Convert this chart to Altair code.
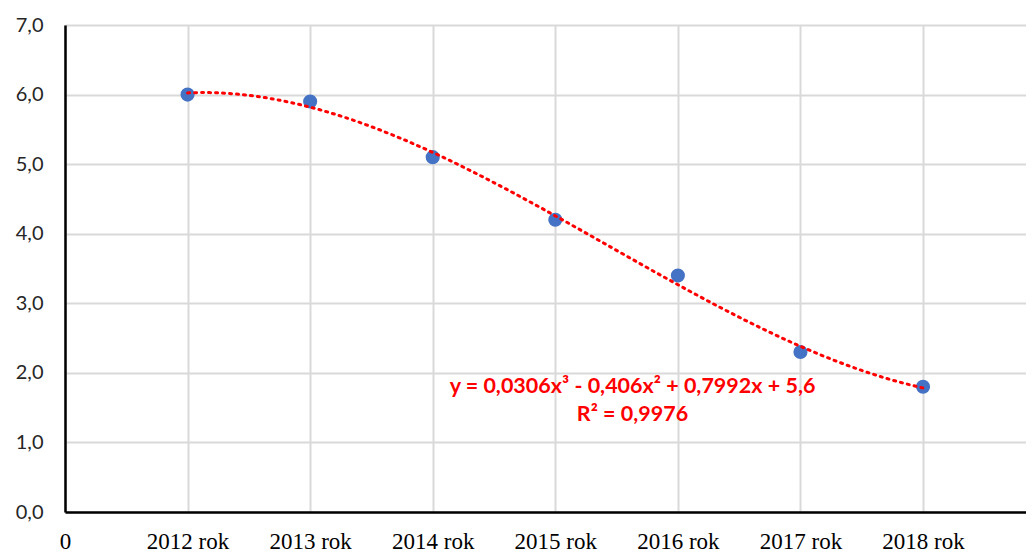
import altair as alt
import pandas as pd

# ---- data ----
years = ["2012 rok", "2013 rok", "2014 rok", "2015 rok", "2016 rok", "2017 rok", "2018 rok"]
x_index = [1, 2, 3, 4, 5, 6, 7]
values = [6.0, 5.9, 5.1, 4.2, 3.4, 2.3, 1.8]

eq_lines = ["y = 0,0306x³ - 0,406x² + 0,7992x + 5,6", "R² = 0,9976"]
eq_x = [4.63, 4.63]
eq_y = [1.80, 1.39]

df = pd.DataFrame({"x": x_index, "value": values, "year": years})
df_eq = pd.DataFrame({"x": eq_x, "y": eq_y, "label": eq_lines})

tick_labels = ["0"] + years
label_arr = "[" + ",".join("'" + t + "'" for t in tick_labels) + "]"

x_scale = alt.Scale(domain=[0, 7.84], nice=False, zero=False)
y_scale = alt.Scale(domain=[0, 7], nice=False)

x_axis = alt.Axis(
    values=list(range(0, 8)),
    labelExpr=label_arr + "[round(datum.value)]",
    labelFont="Liberation Serif",
    labelFontSize=23,
    labelColor="#000000",
    labelPadding=18,
    title=None,
    ticks=False,
    grid=True,
    gridColor="#d9d9d9",
    gridWidth=2,
    domainColor="#000000",
    domainWidth=2.5,
    labelFlush=False,
)
y_axis = alt.Axis(
    values=list(range(0, 8)),
    labelExpr="replace(format(datum.value, '.1f'), '.', ',')",
    labelFont="Lato",
    labelFontSize=20,
    labelColor="#262626",
    labelPadding=22,
    title=None,
    ticks=False,
    grid=True,
    gridColor="#d9d9d9",
    gridWidth=2,
    domainColor="#000000",
    domainWidth=2.5,
)

base = alt.Chart(df)

points = base.mark_point(filled=True, size=200, color="#4472C4", opacity=1).encode(
    x=alt.X("x:Q", scale=x_scale, axis=x_axis),
    y=alt.Y("value:Q", scale=y_scale, axis=y_axis),
)

trend = base.transform_regression(
    "x", "value", method="poly", order=3, extent=[1, 7]
).mark_line(color="#FF0000", strokeDash=[2, 5], strokeWidth=3, strokeCap="round").encode(
    x=alt.X("x:Q", scale=x_scale),
    y=alt.Y("value:Q", scale=y_scale),
)

eq = alt.Chart(df_eq).mark_text(
    color="#FF0000", font="Lato", fontWeight="bold", fontSize=21.5, align="center", baseline="middle"
).encode(
    x=alt.X("x:Q", scale=x_scale),
    y=alt.Y("y:Q", scale=y_scale),
    text="label:N",
)

chart = (
    alt.layer(points, trend, eq)
    .properties(width=961, height=487, padding={"top": 7, "left": 7, "right": 0, "bottom": 0})
    .configure_view(stroke=None)
    .configure(background="white")
)

chart.save("out.html", embed_options={"renderer": "svg", "actions": False})
